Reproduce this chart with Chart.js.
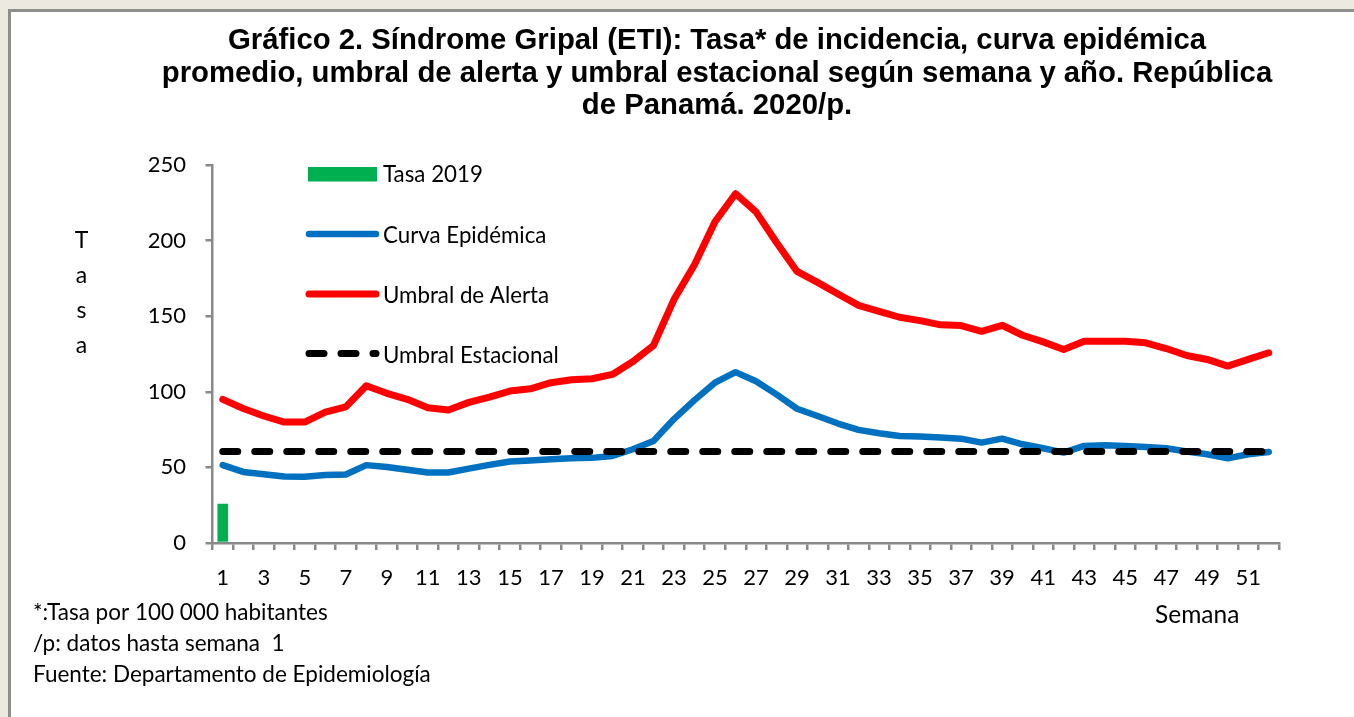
<!DOCTYPE html>
<html><head><meta charset="utf-8">
<script src="https://cdn.jsdelivr.net/npm/chart.js@4.4.1/dist/chart.umd.min.js"></script>
<style>
html,body{margin:0;padding:0;width:1354px;height:717px;overflow:hidden;background:#ECE9E1;}
#frame{position:absolute;left:8px;top:9px;right:-10px;bottom:-10px;background:#fff;border-left:3px solid #8E8E8E;border-top:3px solid #8E8E8E;}
#wrap{position:absolute;left:0;top:0;width:1354px;height:717px;}
</style></head><body>
<div id="frame"></div>
<div id="wrap"><canvas id="c" width="1354" height="717"></canvas></div>
<script>
const titleLines = [
  'Gráfico 2. Síndrome Gripal (ETI): Tasa* de incidencia, curva epidémica',
  'promedio, umbral de alerta y umbral estacional según semana y año. República',
  'de Panamá. 2020/p.'
];
const weeks = ['1','2','3','4','5','6','7','8','9','10','11','12','13','14','15','16','17','18','19','20','21','22','23','24','25','26',
  '27','28','29','30','31','32','33','34','35','36','37','38','39','40','41','42','43','44','45','46','47','48','49','50','51','52'];
const tasa2019 = [26];
const curvaEpidemica = [51.5, 47, 45.5, 44, 43.8, 44.9, 45.3, 51.5, 50.3, 48.4, 46.6, 46.6, 49.2, 51.7, 53.9, 54.5, 55.4, 56, 56.3, 57.6,
  62, 67.5, 82, 94.5, 106, 113, 107, 98.3, 88.8, 84, 79, 74.8, 72.6, 70.8, 70.4, 69.7, 69, 66.4, 69, 65.3,
  62.7, 59.8, 64.2, 64.6, 64.2, 63.5, 62.7, 60.5, 58.7, 56, 58.7, 60.2];
const umbralAlerta = [95, 89, 84, 80, 80, 86.5, 90, 104, 99, 95, 89.5, 88, 93, 96.5, 100.5, 102, 106, 108, 108.6, 111.5,
  120, 130.6, 161, 184, 212.5, 231, 219, 198.7, 179.6, 172.4, 164.7, 157.2, 153.2, 149.3, 147.1, 144.3, 143.8, 140, 144, 137.4,
  133, 128, 133.5, 133.5, 133.5, 132.4, 128.6, 124, 121.4, 117, 121.4, 125.8];
const umbralEstacional = [60.5, 60.5, 60.5, 60.5, 60.5, 60.5, 60.5, 60.5, 60.5, 60.5, 60.5, 60.5, 60.5, 60.5, 60.5, 60.5, 60.5, 60.5, 60.5, 60.5,
  60.5, 60.5, 60.5, 60.5, 60.5, 60.5, 60.5, 60.5, 60.5, 60.5, 60.5, 60.5, 60.5, 60.5, 60.5, 60.5, 60.5, 60.5, 60.5, 60.5,
  60.5, 60.5, 60.5, 60.5, 60.5, 60.5, 60.5, 60.5, 60.5, 60.5, 60.5, 60.5];
const yTicks = [0, 50, 100, 150, 200, 250];
const footnotes = ['*:Tasa por 100 000 habitantes', '/p: datos hasta semana  1', 'Fuente: Departamento de Epidemiología'];
const yTitleLetters = ['T', 'a', 's', 'a'];
const xTitle = 'Semana';

const FONT = 'Lato, "Open Sans", sans-serif';
const TITLE_FONT = 'bold 29.3px "Liberation Sans", Arial, sans-serif';
const AXIS_COLOR = '#898989';

const extraText = {
  id: 'extraText',
  afterDraw(chart) {
    const ctx = chart.ctx;
    ctx.save();
    // title
    ctx.fillStyle = '#000';
    ctx.font = TITLE_FONT;
    ctx.textAlign = 'center';
    ctx.textBaseline = 'alphabetic';
    titleLines.forEach((t, k) => ctx.fillText(t, 717, 49 + k * 32.5));
    // custom legend inside plot area
    const ds = chart.data.datasets;
    const x0 = 309, x1 = 376, tx = 383;
    const rows = [
      {i: 0, y: 174, base: 181.5},
      {i: 1, y: 234, base: 243},
      {i: 2, y: 294, base: 303},
      {i: 3, y: 353.5, base: 362.5}
    ];
    rows.forEach(r => {
      const d = ds[r.i];
      if (d.type === 'line') {
        ctx.beginPath();
        ctx.lineWidth = d.borderWidth;
        ctx.strokeStyle = d.borderColor;
        ctx.lineCap = 'round';
        ctx.setLineDash(d.borderDash || []);
        ctx.moveTo(x0, r.y); ctx.lineTo(x1, r.y);
        ctx.stroke();
        ctx.setLineDash([]);
      } else {
        ctx.fillStyle = d.backgroundColor;
        ctx.fillRect(x0 - 1, r.y - 7, x1 - x0 + 2, 14.5);
      }
      ctx.fillStyle = '#000';
      ctx.font = '22.3px ' + FONT;
      ctx.textAlign = 'left';
      ctx.textBaseline = 'alphabetic';
      ctx.fillText(d.label, tx, r.base);
    });
    // vertical y title letters
    ctx.font = '23px ' + FONT;
    ctx.textAlign = 'center';
    ctx.fillStyle = '#000';
    yTitleLetters.forEach((ch, k) => ctx.fillText(ch, 81.5, 248 + k * 35));
    // x title
    ctx.font = '24.5px ' + FONT;
    ctx.textAlign = 'left';
    ctx.fillText(xTitle, 1155, 623);
    // footnotes
    ctx.font = '22.5px ' + FONT;
    footnotes.forEach((t, k) => ctx.fillText(t, 33, 620 + k * 31));
    ctx.restore();
  }
};

new Chart(document.getElementById('c'), {
  type: 'bar',
  data: {
    labels: weeks,
    datasets: [
      {type: 'bar', label: 'Tasa 2019', data: tasa2019, backgroundColor: '#00B050', barPercentage: 0.52, categoryPercentage: 1, order: 4},
      {type: 'line', label: 'Curva Epidémica', data: curvaEpidemica, borderColor: '#0070C0', borderWidth: 6.5, pointRadius: 0, tension: 0, fill: false, borderJoinStyle: 'round', borderCapStyle: 'round', order: 2},
      {type: 'line', label: 'Umbral de Alerta', data: umbralAlerta, borderColor: '#FF0000', borderWidth: 7, pointRadius: 0, tension: 0, fill: false, borderJoinStyle: 'round', borderCapStyle: 'round', order: 3},
      {type: 'line', label: 'Umbral Estacional', data: umbralEstacional, borderColor: '#000000', borderWidth: 7, borderDash: [15, 17], pointRadius: 0, tension: 0, fill: false, borderCapStyle: 'round', order: 1}
    ]
  },
  options: {
    responsive: false,
    animation: false,
    devicePixelRatio: 1,
    layout: {padding: {left: 20, right: 75, top: 165, bottom: 0}},
    plugins: {
      legend: {display: false},
      tooltip: {enabled: false},
      title: {display: false}
    },
    scales: {
      x: {
        offset: true,
        grid: {offset: true, display: true, drawOnChartArea: false, drawTicks: true, tickLength: 7, color: AXIS_COLOR, lineWidth: 2.5},
        border: {display: true, color: AXIS_COLOR, width: 2.5},
        ticks: {autoSkip: false, maxRotation: 0, minRotation: 0, padding: 15, color: '#000', font: {family: FONT, size: 22},
          callback: (v, i) => (i % 2 === 0 ? weeks[i] : '')},
        afterFit: s => { s.height = 174; }
      },
      y: {
        min: yTicks[0], max: yTicks[yTicks.length - 1],
        afterBuildTicks: s => { s.ticks = yTicks.map(v => ({value: v})); },
        ticks: {padding: 19.5, color: '#000', font: {family: FONT, size: 22}},
        grid: {display: true, drawOnChartArea: false, drawTicks: true, tickLength: 7, color: AXIS_COLOR, lineWidth: 2.5},
        border: {display: true, color: AXIS_COLOR, width: 2.5},
        afterFit: s => { s.width = 192.5; }
      }
    }
  },
  plugins: [extraText]
});
</script>
</body></html>
